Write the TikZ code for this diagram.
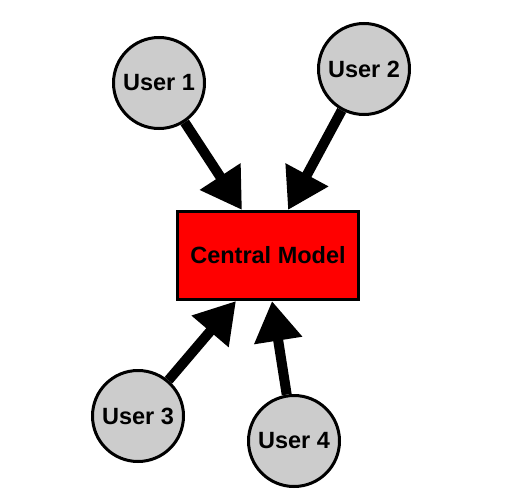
\documentclass[tikz,border=0pt]{standalone}
\usepackage{fontspec}
\setmainfont{Liberation Sans}
\usetikzlibrary{arrows.meta}

\begin{document}
\begin{tikzpicture}[x=1pt,y=-1pt,
  user/.style={circle,draw=black,line width=3pt,fill=gray!40,minimum size=91pt,
    inner sep=1pt,font=\fontsize{23.5}{28}\selectfont\bfseries},
  model/.style={rectangle,draw=black,line width=3pt,fill=red,minimum width=181pt,
    minimum height=88pt,font=\fontsize{23.5}{28}\selectfont\bfseries},
  link/.style={line width=10pt,-{Triangle[length=40pt,width=46pt]}}]
  \useasboundingbox (0,0) rectangle (510,497);

  \node[model] (central) at (268,255.5) {Central Model};
  \node[user] (user1) at (159,83) {User 1};
  \node[user] (user2) at (364,69) {User 2};
  \node[user] (user3) at (138,416) {User 3};
  \node[user] (user4) at (294,441) {User 4};

  % arrow ends on the box
  \coordinate (top1) at ([xshift=-26pt]central.north);
  \coordinate (top2) at ([xshift=20pt]central.north);
  \coordinate (bot3) at ([xshift=-32pt]central.south);
  \coordinate (bot4) at ([xshift=4pt]central.south);

  \draw[link] (user1) -- (top1);
  \draw[link] (user2) -- (top2);
  \draw[link] (user3) -- (bot3);
  \draw[link] (user4) -- (bot4);
\end{tikzpicture}
\end{document}
